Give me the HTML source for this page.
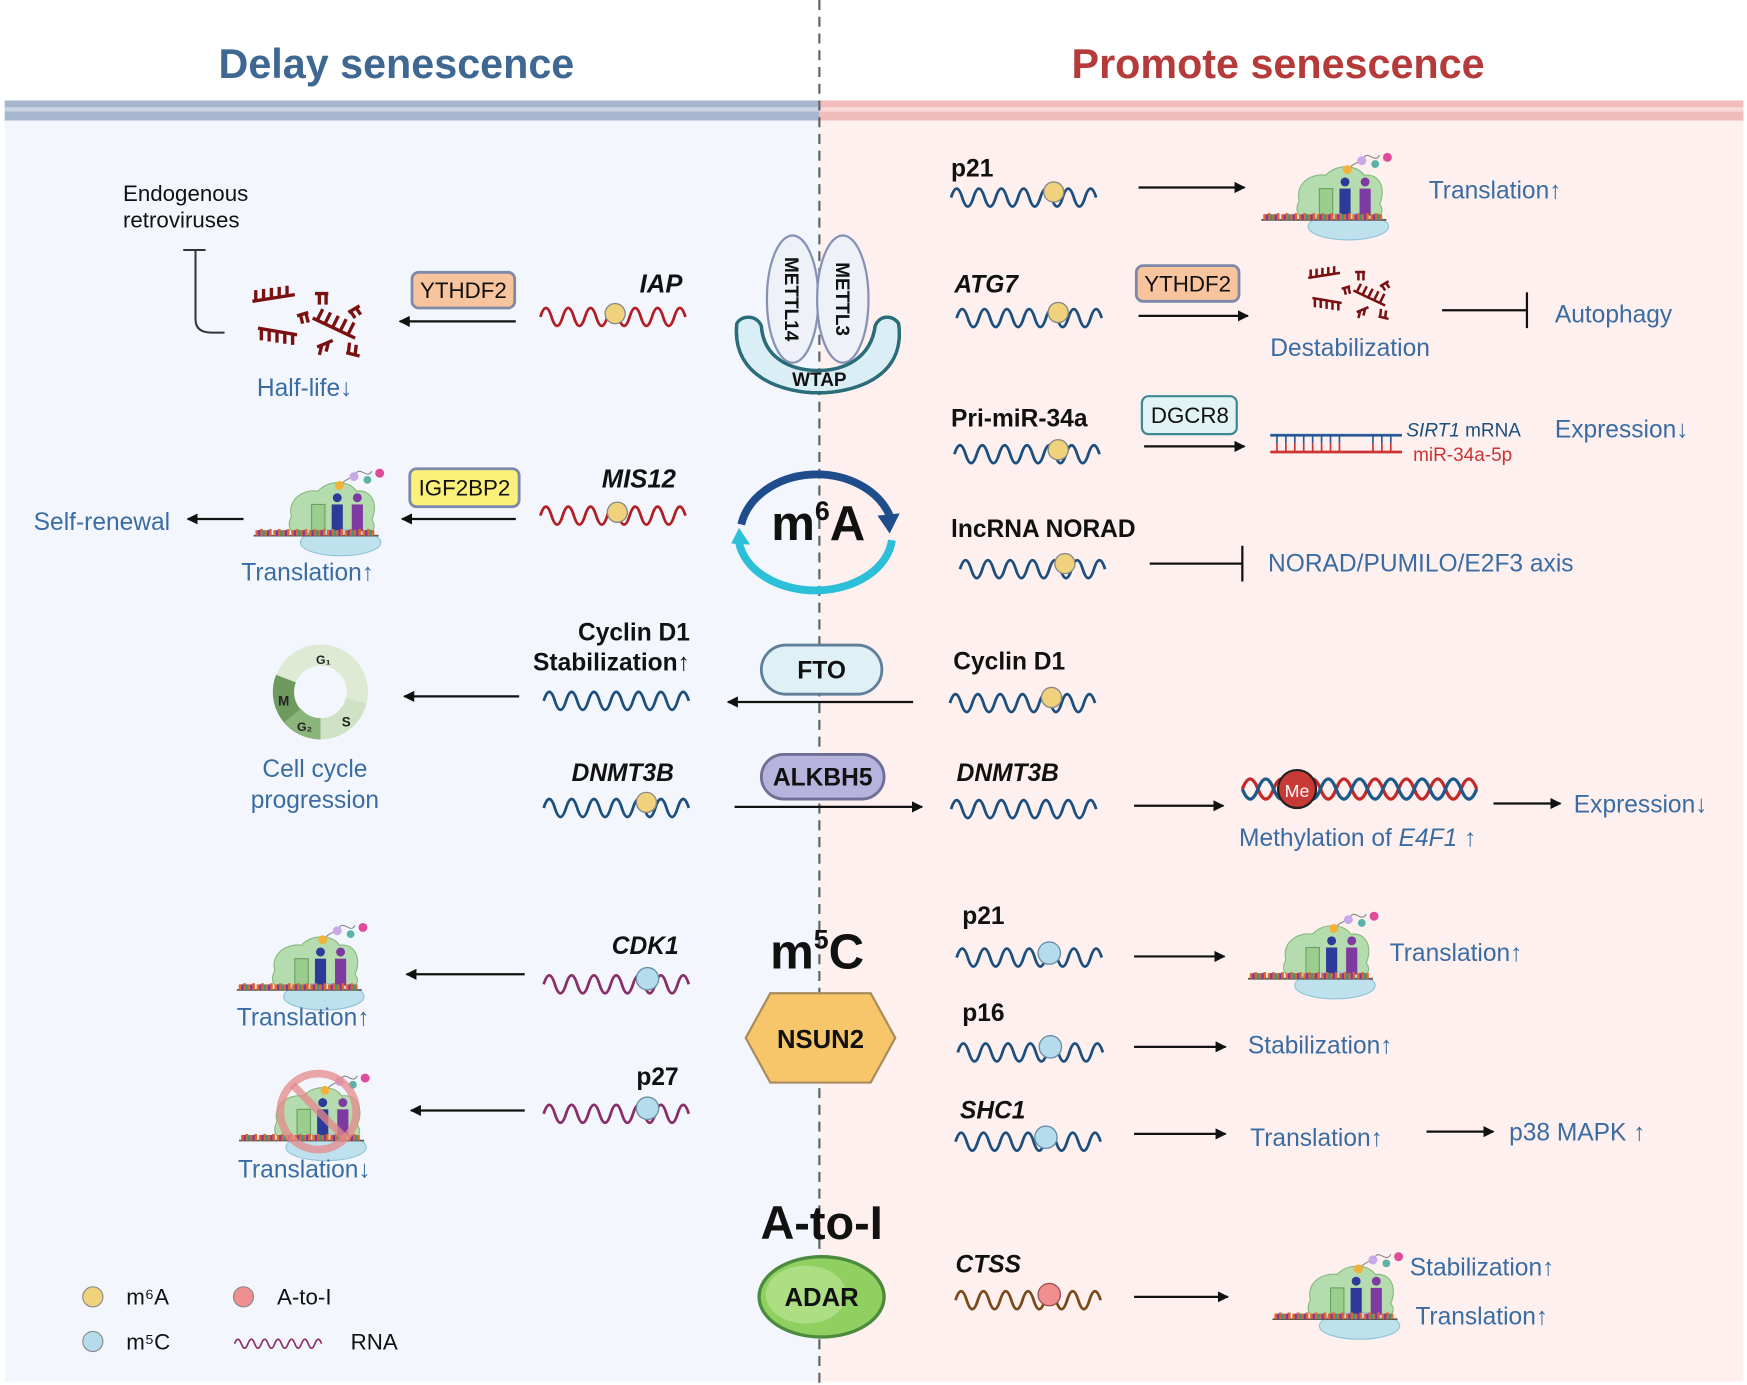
<!DOCTYPE html>
<html><head><meta charset="utf-8">
<style>
html,body{margin:0;padding:0;background:#fff;}
svg{display:block;}
text{font-family:"Liberation Sans",Arial,sans-serif;}
</style></head>
<body>
<svg width="1747" height="1385" viewBox="0 0 1565 1241" xmlns="http://www.w3.org/2000/svg">
<defs>
<marker id="ah" markerWidth="10" markerHeight="10" refX="9" refY="5" orient="auto" markerUnits="userSpaceOnUse" viewBox="0 0 10 10">
<path d="M0 0 L10 5 L0 10 z" fill="#111"/></marker>
<g id="rib">
 <path d="M34 55 C30 40 44 30 58 32 C66 22 86 22 92 32 C106 30 112 44 106 58 C112 66 104 72 96 70 L40 70 C32 70 30 62 34 55z" fill="#b5dcae" stroke="#86b97e" stroke-width="1"/>
 <ellipse cx="78" cy="78" rx="36" ry="12" fill="#bfe1ee" stroke="#8fc3d8"/>
 <rect x="52" y="44" width="12" height="26" fill="#9acd8e" stroke="#6aa060"/>
 <rect x="70" y="44" width="10" height="24" fill="#2d3a9a"/>
 <rect x="88" y="44" width="10" height="24" fill="#7e3aa0"/>
 <circle cx="75" cy="38" r="4" fill="#2d3a9a"/><circle cx="93" cy="38" r="4" fill="#7e3aa0"/>
 <path d="M77 30 C80 20 88 22 92 16 S102 22 106 14" stroke="#888" fill="none"/>
 <circle cx="77" cy="27" r="4" fill="#f2b23a"/><circle cx="90" cy="19" r="4" fill="#c8a8e8"/><circle cx="102" cy="22" r="3.5" fill="#5ab3a8"/><circle cx="113" cy="16" r="4" fill="#e04a9a"/>
 <line x1="0" y1="72" x2="112" y2="72" stroke="#555" stroke-width="1.5"/>
 <path d="M3 72v-5M7 72v-6M11 72v-5M15 72v-6M19 72v-5M23 72v-6M27 72v-5M31 72v-6M35 72v-5M39 72v-6M43 72v-5M47 72v-6M51 72v-5M55 72v-6M59 72v-5M63 72v-6M67 72v-5M71 72v-6M75 72v-5M79 72v-6M83 72v-5M87 72v-6M91 72v-5M95 72v-6M99 72v-5M103 72v-6M107 72v-5" stroke="#e0672a" stroke-width="2.5"/>
 <path d="M5 72v-5M13 72v-5M21 72v-5M29 72v-5M37 72v-5M45 72v-5M53 72v-5M61 72v-5M69 72v-5M77 72v-5M85 72v-5M93 72v-5M101 72v-5" stroke="#7a3aa8" stroke-width="2"/>
 <path d="M9 72v-5M25 72v-5M41 72v-5M57 72v-5M73 72v-5M89 72v-5M105 72v-5" stroke="#2a9a8a" stroke-width="2"/>
</g>
<g id="frag" stroke="#7a1010" stroke-width="3" fill="none">
 <path d="M0 12 L38 6 M3 12v-10M10 11v-10M17 10v-10M24 9v-10M31 8v-10"/>
 <path d="M5 36 L40 42 M8 37v10M15 38v10M22 39v10M29 40v10M36 41v10"/>
 <path d="M56 5h12M60 5v10M66 5v10"/>
 <path d="M40 25l10 -3M43 24l2 8M48 23l2 8"/>
 <path d="M54 27 L92 45 M58 29l5 -10M65 32l5 -10M72 35l5 -10M79 38l5 -10M86 41l5 -10"/>
 <path d="M58 53l14 -6M62 52l-2 8M68 49l-2 8"/>
 <path d="M86 22l10 -6M88 21l4 6M93 18l4 6"/>
 <path d="M84 58l12 3M86 58l1 -9M92 60l1 -9"/>
</g>
</defs>

<rect width="1565" height="1241" fill="#fff"/>
<rect x="4" y="100" width="730" height="1138" fill="#f3f7fd"/>
<rect x="734" y="100" width="828" height="1138" fill="#fdf0ef"/>
<rect x="4" y="90" width="730" height="18" fill="#a7b6cf"/>
<rect x="4" y="96" width="730" height="4" fill="#c9d3e3"/>
<rect x="734" y="90" width="828" height="18" fill="#f1bcbc"/>
<rect x="734" y="96" width="828" height="4" fill="#f8d9d9"/>
<text x="355" y="70" font-size="37" font-weight="bold" fill="#3e6792" text-anchor="middle">Delay senescence</text>
<text x="1145" y="70" font-size="37" font-weight="bold" fill="#b53a3a" text-anchor="middle">Promote senescence</text>
<line x1="734" y1="0" x2="734" y2="1241" stroke="#666" stroke-width="2" stroke-dasharray="9 6"/>

<g font-size="22" fill="#3a6ca3">
<!-- LEFT -->
<text x="110" y="180" font-size="20" fill="#111">Endogenous</text>
<text x="110" y="204" font-size="20" fill="#111">retroviruses</text>
<path d="M164 224h20M175 224v62q0 12 14 12h12" stroke="#333" stroke-width="1.8" fill="none"/>
<use href="#frag" x="226" y="258"/>
<rect x="369" y="244" width="92" height="32" rx="6" fill="#f7c49e" stroke="#7d88aa" stroke-width="2.5"/>
<text x="415" y="267" font-size="20" fill="#111" text-anchor="middle">YTHDF2</text>
<line x1="462" y1="288" x2="358" y2="288" stroke="#111" stroke-width="2" marker-end="url(#ah)"/>
<text x="573" y="262" font-size="23" font-weight="bold" font-style="italic" fill="#111">IAP</text>
<path d="M484 284 q5 -16 10 0 t10 0 t10 0 t10 0 t10 0 t10 0 t10 0 t10 0 t10 0 t10 0 t10 0 t10 0 t10 0" stroke="#b21e24" stroke-width="2.5" fill="none"/>
<circle cx="551" cy="281" r="9" fill="#f1d27c" stroke="#888" stroke-width="1.2"/>
<text x="230" y="355">Half-life↓</text>

<use href="#rib" x="227" y="408"/>
<rect x="367" y="420" width="98" height="34" rx="6" fill="#fbf07a" stroke="#7d88aa" stroke-width="2.5"/>
<text x="416" y="444" font-size="20" fill="#111" text-anchor="middle">IGF2BP2</text>
<line x1="462" y1="465" x2="360" y2="465" stroke="#111" stroke-width="2" marker-end="url(#ah)"/>
<text x="539" y="437" font-size="23" font-weight="bold" font-style="italic" fill="#111">MIS12</text>
<path d="M484 462 q5 -16 10 0 t10 0 t10 0 t10 0 t10 0 t10 0 t10 0 t10 0 t10 0 t10 0 t10 0 t10 0 t10 0" stroke="#b21e24" stroke-width="2.5" fill="none"/>
<circle cx="553" cy="459" r="9" fill="#f1d27c" stroke="#888" stroke-width="1.2"/>
<line x1="218" y1="465" x2="168" y2="465" stroke="#111" stroke-width="2" marker-end="url(#ah)"/>
<text x="30" y="475">Self-renewal</text>
<text x="216" y="520">Translation↑</text>

<text x="618" y="574" font-size="22" font-weight="bold" fill="#111" text-anchor="end">Cyclin D1</text>
<text x="618" y="601" font-size="22" font-weight="bold" fill="#111" text-anchor="end">Stabilization↑</text>
<path d="M487 628 q5 -16 10 0 t10 0 t10 0 t10 0 t10 0 t10 0 t10 0 t10 0 t10 0 t10 0 t10 0 t10 0 t10 0" stroke="#1d4f7e" stroke-width="2.5" fill="none"/>
<line x1="465" y1="624" x2="362" y2="624" stroke="#111" stroke-width="2" marker-end="url(#ah)"/>
<circle cx="287" cy="620" r="33" fill="none" stroke="#dfead5" stroke-width="19"/>
<path d="M287 653 A33 33 0 0 1 256 608" fill="none" stroke="#6f9a5f" stroke-width="19"/>
<path d="M287 653 A33 33 0 0 1 262 641" fill="none" stroke="#8cb57c" stroke-width="19"/>
<path d="M319 628 A33 33 0 0 1 287 653" fill="none" stroke="#cfe2c6" stroke-width="19"/>
<text x="283" y="595" font-size="11" font-weight="bold" fill="#222">G₁</text>
<text x="249" y="632" font-size="12" font-weight="bold" fill="#222">M</text>
<text x="266" y="655" font-size="11" font-weight="bold" fill="#222">G₂</text>
<text x="306" y="651" font-size="12" font-weight="bold" fill="#222">S</text>
<text x="282" y="696" text-anchor="middle">Cell cycle</text>
<text x="282" y="724" text-anchor="middle">progression</text>

<rect x="682" y="578" width="108" height="44" rx="22" fill="#e0f1f6" stroke="#5f7f98" stroke-width="2.5"/>
<text x="736" y="608" font-size="22" font-weight="bold" fill="#111" text-anchor="middle">FTO</text>
<line x1="818" y1="629" x2="652" y2="629" stroke="#111" stroke-width="2" marker-end="url(#ah)"/>

<text x="512" y="700" font-size="22" font-weight="bold" font-style="italic" fill="#111">DNMT3B</text>
<path d="M487 724 q5 -16 10 0 t10 0 t10 0 t10 0 t10 0 t10 0 t10 0 t10 0 t10 0 t10 0 t10 0 t10 0 t10 0" stroke="#1d4f7e" stroke-width="2.5" fill="none"/>
<circle cx="579" cy="719" r="9" fill="#f1d27c" stroke="#888" stroke-width="1.2"/>
<rect x="682" y="676" width="110" height="40" rx="20" fill="#b6b3dd" stroke="#6d6f96" stroke-width="2.5"/>
<text x="737" y="704" font-size="22" font-weight="bold" fill="#111" text-anchor="middle">ALKBH5</text>
<line x1="658" y1="723" x2="826" y2="723" stroke="#111" stroke-width="2" marker-end="url(#ah)"/>

<!-- center m6A -->
<text x="733" y="484" font-size="44" font-weight="bold" fill="#111" text-anchor="middle">m<tspan font-size="24" dy="-18">6</tspan><tspan dy="18">A</tspan></text>
<path d="M664 470 A69 55 0 0 1 797 462" fill="none" stroke="#1f4d8c" stroke-width="7"/>
<path d="M786 462 L797 478 L806 460 z" fill="#1f4d8c"/>
<path d="M799 484 A69 50 0 0 1 662 486" fill="none" stroke="#2bbfd8" stroke-width="7"/>
<path d="M655 487 L662 473 L672 488 z" fill="#2bbfd8"/>

<!-- METTL / WTAP -->
<path d="M660 290 C655 340 705 352 733 352 C762 352 812 340 805 290 C800 282 788 282 784 292 C780 322 755 332 733 332 C710 332 684 322 682 292 C678 282 664 282 660 290z" fill="#d9eef5" stroke="#2b6c7a" stroke-width="3"/>
<ellipse cx="710" cy="268" rx="23" ry="57" fill="#eef1f8" stroke="#8791b5" stroke-width="2"/>
<ellipse cx="755" cy="268" rx="23" ry="57" fill="#eef1f8" stroke="#8791b5" stroke-width="2"/>
<path d="M660 290 C655 340 705 352 733 352 C762 352 812 340 805 290 C800 282 788 282 784 292 C780 322 755 332 733 332 C710 332 684 322 682 292" fill="none" stroke="#2b6c7a" stroke-width="3"/>
<text transform="translate(703,268) rotate(90)" font-size="17" font-weight="bold" fill="#111" text-anchor="middle">METTL14</text>
<text transform="translate(749,268) rotate(90)" font-size="17" font-weight="bold" fill="#111" text-anchor="middle">METTL3</text>
<text x="734" y="346" font-size="17" font-weight="bold" fill="#111" text-anchor="middle">WTAP</text>

<!-- m5C -->
<text x="732" y="868" font-size="44" font-weight="bold" fill="#111" text-anchor="middle">m<tspan font-size="24" dy="-18">5</tspan><tspan dy="18">C</tspan></text>
<polygon points="690,890 780,890 802,930 780,970 690,970 668,930" fill="#f8c66a" stroke="#a88c5c" stroke-width="2"/>
<text x="735" y="939" font-size="23" font-weight="bold" fill="#111" text-anchor="middle">NSUN2</text>

<use href="#rib" x="212" y="815"/>
<text x="548" y="855" font-size="22" font-weight="bold" font-style="italic" fill="#111">CDK1</text>
<path d="M487 882 q5 -16 10 0 t10 0 t10 0 t10 0 t10 0 t10 0 t10 0 t10 0 t10 0 t10 0 t10 0 t10 0 t10 0" stroke="#8a2e6a" stroke-width="2.5" fill="none"/>
<circle cx="580" cy="877" r="10" fill="#b5dcec" stroke="#6a8fa5" stroke-width="1.2"/>
<line x1="470" y1="873" x2="364" y2="873" stroke="#111" stroke-width="2" marker-end="url(#ah)"/>
<text x="212" y="919">Translation↑</text>

<use href="#rib" x="214" y="950"/>
<circle cx="285" cy="996" r="34" fill="none" stroke="#e58a8a" stroke-width="7" opacity="0.75"/>
<line x1="262" y1="972" x2="309" y2="1020" stroke="#e58a8a" stroke-width="7" opacity="0.75"/>
<text x="570" y="972" font-size="22" font-weight="bold" fill="#111">p27</text>
<path d="M487 998 q5 -16 10 0 t10 0 t10 0 t10 0 t10 0 t10 0 t10 0 t10 0 t10 0 t10 0 t10 0 t10 0 t10 0" stroke="#8a2e6a" stroke-width="2.5" fill="none"/>
<circle cx="580" cy="993" r="10" fill="#b5dcec" stroke="#6a8fa5" stroke-width="1.2"/>
<line x1="470" y1="995" x2="368" y2="995" stroke="#111" stroke-width="2" marker-end="url(#ah)"/>
<text x="213" y="1055">Translation↓</text>

<!-- A-to-I -->
<text x="736" y="1110" font-size="42" font-weight="bold" fill="#111" text-anchor="middle">A-to-I</text>
<ellipse cx="736" cy="1162" rx="56" ry="36" fill="#8fd060" stroke="#4c8a3e" stroke-width="3"/>
<ellipse cx="722" cy="1160" rx="36" ry="26" fill="#b9e494" opacity="0.7"/>
<text x="736" y="1170" font-size="23" font-weight="bold" fill="#111" text-anchor="middle">ADAR</text>

<!-- legend -->
<circle cx="83" cy="1162" r="9" fill="#f1d27c" stroke="#888"/>
<text x="113" y="1169" font-size="20" fill="#111">m⁶A</text>
<circle cx="218" cy="1162" r="9" fill="#f08f8f" stroke="#888"/>
<text x="248" y="1169" font-size="20" fill="#111">A-to-I</text>
<circle cx="83" cy="1202" r="9" fill="#b5dcec" stroke="#888"/>
<text x="113" y="1209" font-size="20" fill="#111">m⁵C</text>
<path d="M210 1204 q3 -8 6 0 t6 0 t6 0 t6 0 t6 0 t6 0 t6 0 t6 0 t6 0 t6 0 t6 0 t6 0 t6 0" stroke="#8a2e6a" stroke-width="1.5" fill="none"/>
<text x="314" y="1209" font-size="20" fill="#111">RNA</text>

<!-- RIGHT -->
<text x="852" y="158" font-size="22" font-weight="bold" fill="#111">p21</text>
<path d="M852 177 q5 -16 10 0 t10 0 t10 0 t10 0 t10 0 t10 0 t10 0 t10 0 t10 0 t10 0 t10 0 t10 0 t10 0" stroke="#1d4f7e" stroke-width="2.5" fill="none"/>
<circle cx="944" cy="172" r="9" fill="#f1d27c" stroke="#888" stroke-width="1.2"/>
<line x1="1020" y1="168" x2="1115" y2="168" stroke="#111" stroke-width="2" marker-end="url(#ah)"/>
<use href="#rib" x="1130" y="125"/>
<text x="1280" y="178">Translation↑</text>

<text x="855" y="262" font-size="22" font-weight="bold" font-style="italic" fill="#111">ATG7</text>
<path d="M857 285 q5 -16 10 0 t10 0 t10 0 t10 0 t10 0 t10 0 t10 0 t10 0 t10 0 t10 0 t10 0 t10 0 t10 0" stroke="#1d4f7e" stroke-width="2.5" fill="none"/>
<circle cx="948" cy="280" r="9" fill="#f1d27c" stroke="#888" stroke-width="1.2"/>
<rect x="1018" y="238" width="92" height="32" rx="6" fill="#f7c49e" stroke="#7d88aa" stroke-width="2.5"/>
<text x="1064" y="261" font-size="20" fill="#111" text-anchor="middle">YTHDF2</text>
<line x1="1020" y1="283" x2="1118" y2="283" stroke="#111" stroke-width="2" marker-end="url(#ah)"/>
<g transform="translate(1172,240) scale(0.75)"><use href="#frag"/></g>
<text x="1138" y="319">Destabilization</text>
<path d="M1292 278h76M1368 262v32" stroke="#111" stroke-width="2"/>
<text x="1393" y="289">Autophagy</text>

<text x="852" y="382" font-size="22" font-weight="bold" fill="#111">Pri-miR-34a</text>
<path d="M855 407 q5 -16 10 0 t10 0 t10 0 t10 0 t10 0 t10 0 t10 0 t10 0 t10 0 t10 0 t10 0 t10 0 t10 0" stroke="#1d4f7e" stroke-width="2.5" fill="none"/>
<circle cx="948" cy="403" r="9" fill="#f1d27c" stroke="#888" stroke-width="1.2"/>
<rect x="1023" y="355" width="85" height="34" rx="6" fill="#e2f3f4" stroke="#3f8a90" stroke-width="2"/>
<text x="1066" y="379" font-size="20" fill="#111" text-anchor="middle">DGCR8</text>
<line x1="1025" y1="400" x2="1115" y2="400" stroke="#111" stroke-width="2" marker-end="url(#ah)"/>
<line x1="1138" y1="390" x2="1256" y2="390" stroke="#2a5a9a" stroke-width="2.5"/>
<line x1="1138" y1="405" x2="1256" y2="405" stroke="#c33" stroke-width="2.5"/>
<path d="M1144 390v7M1152 390v7M1160 390v7M1168 390v7M1176 390v7M1184 390v7M1192 390v7M1200 390v7M1230 390v7M1238 390v7M1246 390v7" stroke="#2a5a9a" stroke-width="1.5"/>
<path d="M1144 397v8M1152 397v8M1160 397v8M1168 397v8M1176 397v8M1184 397v8M1192 397v8M1200 397v8M1230 397v8M1238 397v8M1246 397v8" stroke="#c33" stroke-width="1.5"/>
<text x="1260" y="391" font-size="17" fill="#1d4f7e"><tspan font-style="italic">SIRT1</tspan> mRNA</text>
<text x="1266" y="413" font-size="17" fill="#c33">miR-34a-5p</text>
<text x="1393" y="392">Expression↓</text>

<text x="852" y="481" font-size="22" font-weight="bold" fill="#111">lncRNA NORAD</text>
<path d="M860 510 q5 -16 10 0 t10 0 t10 0 t10 0 t10 0 t10 0 t10 0 t10 0 t10 0 t10 0 t10 0 t10 0 t10 0" stroke="#1d4f7e" stroke-width="2.5" fill="none"/>
<circle cx="954" cy="505" r="9" fill="#f1d27c" stroke="#888" stroke-width="1.2"/>
<path d="M1030 505h83M1113 489v32" stroke="#111" stroke-width="2"/>
<text x="1136" y="512">NORAD/PUMILO/E2F3 axis</text>

<text x="854" y="600" font-size="22" font-weight="bold" fill="#111">Cyclin D1</text>
<path d="M851 630 q5 -16 10 0 t10 0 t10 0 t10 0 t10 0 t10 0 t10 0 t10 0 t10 0 t10 0 t10 0 t10 0 t10 0" stroke="#1d4f7e" stroke-width="2.5" fill="none"/>
<circle cx="942" cy="625" r="9" fill="#f1d27c" stroke="#888" stroke-width="1.2"/>

<text x="857" y="700" font-size="22" font-weight="bold" font-style="italic" fill="#111">DNMT3B</text>
<path d="M852 725 q5 -16 10 0 t10 0 t10 0 t10 0 t10 0 t10 0 t10 0 t10 0 t10 0 t10 0 t10 0 t10 0 t10 0" stroke="#1d4f7e" stroke-width="2.5" fill="none"/>
<line x1="1016" y1="722" x2="1096" y2="722" stroke="#111" stroke-width="2" marker-end="url(#ah)"/>
<path d="M1113 707 q7 -18 14 0 t14 0 t14 0 t14 0 t14 0 t14 0 t14 0 t14 0 t14 0 t14 0 t14 0 t14 0 t14 0 t14 0 t14 0" stroke="#c42a2a" stroke-width="3" fill="none"/>
<path d="M1113 707 q7 18 14 0 t14 0 t14 0 t14 0 t14 0 t14 0 t14 0 t14 0 t14 0 t14 0 t14 0 t14 0 t14 0 t14 0 t14 0" stroke="#1d5a8a" stroke-width="3" fill="none"/>
<circle cx="1162" cy="707" r="17" fill="#c83a36" stroke="#222" stroke-width="2"/>
<text x="1162" y="714" font-size="16" fill="#fff" text-anchor="middle">Me</text>
<text x="1110" y="758">Methylation of <tspan font-style="italic">E4F1</tspan> ↑</text>
<line x1="1338" y1="720" x2="1398" y2="720" stroke="#111" stroke-width="2" marker-end="url(#ah)"/>
<text x="1410" y="728">Expression↓</text>

<text x="862" y="828" font-size="22" font-weight="bold" fill="#111">p21</text>
<path d="M857 858 q5 -16 10 0 t10 0 t10 0 t10 0 t10 0 t10 0 t10 0 t10 0 t10 0 t10 0 t10 0 t10 0 t10 0" stroke="#1d4f7e" stroke-width="2.5" fill="none"/>
<circle cx="940" cy="854" r="10" fill="#b5dcec" stroke="#6a8fa5" stroke-width="1.2"/>
<line x1="1016" y1="857" x2="1097" y2="857" stroke="#111" stroke-width="2" marker-end="url(#ah)"/>
<use href="#rib" x="1118" y="805"/>
<text x="1245" y="861">Translation↑</text>

<text x="862" y="915" font-size="22" font-weight="bold" fill="#111">p16</text>
<path d="M858 943 q5 -16 10 0 t10 0 t10 0 t10 0 t10 0 t10 0 t10 0 t10 0 t10 0 t10 0 t10 0 t10 0 t10 0" stroke="#1d4f7e" stroke-width="2.5" fill="none"/>
<circle cx="941" cy="938" r="10" fill="#b5dcec" stroke="#6a8fa5" stroke-width="1.2"/>
<line x1="1016" y1="938" x2="1098" y2="938" stroke="#111" stroke-width="2" marker-end="url(#ah)"/>
<text x="1118" y="944">Stabilization↑</text>

<text x="860" y="1002" font-size="22" font-weight="bold" font-style="italic" fill="#111">SHC1</text>
<path d="M856 1023 q5 -16 10 0 t10 0 t10 0 t10 0 t10 0 t10 0 t10 0 t10 0 t10 0 t10 0 t10 0 t10 0 t10 0" stroke="#1d4f7e" stroke-width="2.5" fill="none"/>
<circle cx="937" cy="1019" r="10" fill="#b5dcec" stroke="#6a8fa5" stroke-width="1.2"/>
<line x1="1016" y1="1016" x2="1098" y2="1016" stroke="#111" stroke-width="2" marker-end="url(#ah)"/>
<text x="1120" y="1027">Translation↑</text>
<line x1="1278" y1="1014" x2="1338" y2="1014" stroke="#111" stroke-width="2" marker-end="url(#ah)"/>
<text x="1352" y="1022">p38 MAPK ↑</text>

<text x="856" y="1140" font-size="22" font-weight="bold" font-style="italic" fill="#111">CTSS</text>
<path d="M856 1165 q5 -16 10 0 t10 0 t10 0 t10 0 t10 0 t10 0 t10 0 t10 0 t10 0 t10 0 t10 0 t10 0 t10 0" stroke="#7a4a1a" stroke-width="2.5" fill="none"/>
<circle cx="940" cy="1160" r="10" fill="#f08f8f" stroke="#a05050" stroke-width="1.2"/>
<line x1="1016" y1="1162" x2="1100" y2="1162" stroke="#111" stroke-width="2" marker-end="url(#ah)"/>
<use href="#rib" x="1140" y="1110"/>
<text x="1263" y="1143">Stabilization↑</text>
<text x="1268" y="1187">Translation↑</text>
</g>
</svg>
</body></html>
